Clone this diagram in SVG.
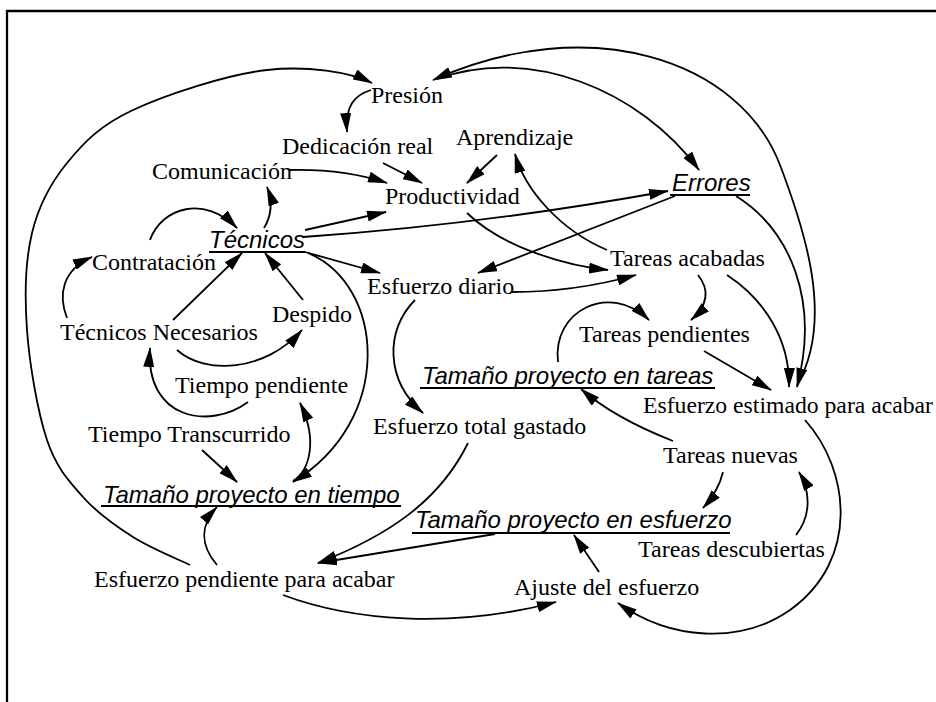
<svg xmlns="http://www.w3.org/2000/svg" width="936" height="702" viewBox="0 0 936 702">
<style>
.t{font-family:"Liberation Serif","Times New Roman",serif;font-size:24px;fill:#000}
.v{font-family:"Liberation Sans",Arial,sans-serif;font-size:24px;font-style:italic;fill:#000}
.u{stroke:#000;stroke-width:2;fill:none}
.c{fill:none;stroke:#000;stroke-width:1.8;marker-end:url(#ah)}
</style>
<defs>
<marker id="ah" viewBox="0 0 20 11" markerWidth="20" markerHeight="11" refX="19" refY="5.5" orient="auto" markerUnits="userSpaceOnUse">
<path d="M0,0 L20,5.5 L0,11 Z" fill="#000"/>
</marker>
</defs>
<rect width="936" height="702" fill="#fff"/>
<path d="M7,702 L7,11 L936,11" fill="none" stroke="#000" stroke-width="2.3"/>
<g id="connectors">
<path class="c" d="M190,565 C180.5,560.3 150.8,548.3 133,537 C115.2,525.7 97.3,513.2 83,497 C68.7,480.8 56.3,467.8 47,440 C37.7,412.2 29.5,364.5 27,330 C24.5,295.5 25.3,260.8 32,233 C38.7,205.2 50.2,183.5 67,163 C83.8,142.5 99.7,125.5 133,110 C166.3,94.5 227.2,74.5 267,70 C306.8,65.5 350,72 372,83"/>
<path class="c" d="M371,90 C355,95 345,105 347,132"/>
<path class="c" d="M797,385 C835,320 804,228 780,165 C740,60 590,10 433,80"/>
<path class="c" d="M437,79 C530,45 640,90 699,170"/>
<path class="c" d="M289,170 C330,169 360,174 387,183"/>
<path class="c" d="M383,163 L422,183"/>
<path class="c" d="M497,155 L467,183"/>
<path class="c" d="M264,228 C272,215 272,200 267,187"/>
<path class="c" d="M150,240 C162,207 205,195 237,228"/>
<path class="c" d="M305,230 L386,212"/>
<path class="c" d="M303,237 Q480,225 668,191"/>
<path class="c" d="M675,196 L478,273"/>
<path class="c" d="M467,213 C500,245 560,265 608,270"/>
<path class="c" d="M607,250 C560,230 525,190 515,154"/>
<path class="c" d="M512,292 C560,292 600,285 636,275"/>
<path class="c" d="M305,252 L380,273"/>
<path class="c" d="M308,253 C385,285 395,420 293,482"/>
<path class="c" d="M293,481 C310,470 318,440 300,403"/>
<path class="c" d="M202,450 L237,482"/>
<path class="c" d="M217,565 C200,545 200,525 217,507"/>
<path class="c" d="M67,318 C58,295 62,270 92,257"/>
<path class="c" d="M173,320 L242,253"/>
<path class="c" d="M303,300 L265,253"/>
<path class="c" d="M177,350 C205,375 265,372 302,330"/>
<path class="c" d="M248,402 C210,430 145,420 150,348"/>
<path class="c" d="M415,300 C385,330 385,380 423,413"/>
<path class="c" d="M468,443 C440,500 390,535 318,563"/>
<path class="c" d="M495,534 L318,563"/>
<path class="c" d="M558,362 C552,310 610,282 649,320"/>
<path class="c" d="M698,275 C710,290 708,305 691,320"/>
<path class="c" d="M704,351 L771,390"/>
<path class="c" d="M727,275 C765,300 790,340 789,387"/>
<path class="c" d="M736,196 C790,230 820,300 797,387"/>
<path class="c" d="M673,441 C640,428 605,410 581,389"/>
<path class="c" d="M723,472 C720,485 713,497 703,508"/>
<path class="c" d="M796,535 C812,515 810,490 799,472"/>
<path class="c" d="M805,420 C850,470 860,560 790,610 C740,645 670,640 618,603"/>
<path class="c" d="M283,595 C350,620 450,630 556,602"/>
<path class="c" d="M599,572 L574,535"/>
</g>
<g id="n-presion"><text class="t" x="371" y="103">Presión</text></g>
<g id="n-dedicacion"><text class="t" x="282" y="154">Dedicación real</text></g>
<g id="n-aprendizaje"><text class="t" x="456" y="145">Aprendizaje</text></g>
<g id="n-comunicacion"><text class="t" x="152" y="179">Comunicación</text></g>
<g id="n-productividad"><text class="t" x="385" y="204">Productividad</text></g>
<g id="n-errores"><text class="v" x="672" y="191">Errores</text><line class="u" x1="670" y1="195" x2="750" y2="195"/></g>
<g id="n-tecnicos"><text class="v" x="209" y="248">Técnicos</text><line class="u" x1="209" y1="252" x2="305" y2="252"/></g>
<g id="n-contratacion"><text class="t" x="92" y="270">Contratación</text></g>
<g id="n-tareas-acabadas"><text class="t" x="610" y="266">Tareas acabadas</text></g>
<g id="n-esfuerzo-diario"><text class="t" x="367" y="294">Esfuerzo diario</text></g>
<g id="n-despido"><text class="t" x="272" y="322">Despido</text></g>
<g id="n-tecnicos-necesarios"><text class="t" x="60" y="340">Técnicos Necesarios</text></g>
<g id="n-tareas-pendientes"><text class="t" x="579" y="342">Tareas pendientes</text></g>
<g id="n-tamano-tareas"><text class="v" x="422" y="384">Tamaño proyecto en tareas</text><line class="u" x1="420" y1="388" x2="715" y2="388"/></g>
<g id="n-tiempo-pendiente"><text class="t" x="175" y="393">Tiempo pendiente</text></g>
<g id="n-esfuerzo-estimado"><text class="t" x="643" y="413" textLength="290" lengthAdjust="spacingAndGlyphs">Esfuerzo estimado para acabar</text></g>
<g id="n-esfuerzo-total"><text class="t" x="373" y="434">Esfuerzo total gastado</text></g>
<g id="n-tiempo-transcurrido"><text class="t" x="88" y="442">Tiempo Transcurrido</text></g>
<g id="n-tareas-nuevas"><text class="t" x="663" y="463">Tareas nuevas</text></g>
<g id="n-tamano-tiempo"><text class="v" x="103" y="503">Tamaño proyecto en tiempo</text><line class="u" x1="101" y1="506" x2="401" y2="506"/></g>
<g id="n-tamano-esfuerzo"><text class="v" x="415" y="528">Tamaño proyecto en esfuerzo</text><line class="u" x1="412" y1="533" x2="730" y2="533"/></g>
<g id="n-tareas-descubiertas"><text class="t" x="638" y="557">Tareas descubiertas</text></g>
<g id="n-esfuerzo-pendiente"><text class="t" x="94" y="587">Esfuerzo pendiente para acabar</text></g>
<g id="n-ajuste"><text class="t" x="514" y="595">Ajuste del esfuerzo</text></g>
</svg>
